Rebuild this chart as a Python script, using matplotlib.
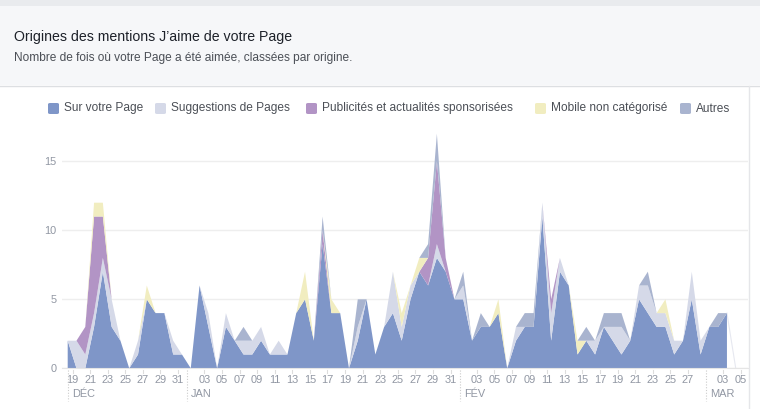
import numpy as np
import matplotlib
matplotlib.use("Agg")
import matplotlib.pyplot as plt
from matplotlib.transforms import blended_transform_factory
from matplotlib.patches import FancyBboxPatch, Rectangle
from matplotlib.lines import Line2D

plt.rcParams['font.family'] = ['Liberation Sans', 'DejaVu Sans']

# daily likes, 19 Dec -> 04 Mar
sur_page = [2, 0, 0, 3, 7, 3, 2, 0, 1, 5, 4, 4, 1, 1, 0, 6, 3, 0, 3, 2,
            1, 1, 2, 1, 1, 1, 4, 5, 2, 9, 4, 4, 0, 2, 5, 1, 3, 4, 2, 5,
            7, 6, 8, 7, 5, 5, 2, 3, 3, 4, 0, 2, 3, 3, 11, 2, 7, 6, 1, 2,
            1, 3, 2, 1, 2, 5, 4, 3, 3, 1, 2, 5, 1, 3, 3, 4]
suggestions = [0, 2, 1, 1, 1, 2, 0, 0, 1, 0, 0, 0, 1, 0, 0, 0, 1, 0, 1, 0,
               1, 1, 1, 0, 1, 0, 0, 0, 0, 0, 0, 0, 0, 1, 0, 0, 0, 3, 1, 1,
               0, 0, 1, 0, 0, 1, 0, 0, 0, 0, 0, 1, 0, 0, 1, 2, 1, 0, 0, 0,
               1, 0, 1, 2, 0, 1, 2, 1, 1, 1, 0, 2, 1, 0, 0, 0]
publicites = [0, 0, 2, 7, 3, 0, 0, 0, 0, 0, 0, 0, 0, 0, 0, 0, 0, 0, 0, 0,
              0, 0, 0, 0, 0, 0, 0, 0, 0, 1, 0, 0, 0, 0, 0, 0, 0, 0, 0, 0,
              0, 2, 6, 1, 0, 0, 0, 0, 0, 0, 0, 0, 0, 0, 0, 1, 0, 0, 0, 0,
              0, 0, 0, 0, 0, 0, 0, 0, 0, 0, 0, 0, 0, 0, 0, 0]
mobile = [0, 0, 0, 1, 1, 0, 0, 0, 0, 1, 0, 0, 0, 0, 0, 0, 0, 0, 0, 0,
          0, 0, 0, 0, 0, 0, 0, 2, 0, 0, 1, 0, 0, 0, 0, 0, 0, 0, 1, 0,
          1, 0, 0, 0, 0, 0, 0, 0, 0, 1, 0, 0, 0, 0, 0, 0, 0, 0, 1, 0,
          0, 0, 0, 0, 0, 0, 0, 0, 1, 0, 0, 0, 0, 0, 0, 0]
autres = [0, 0, 0, 0, 0, 0, 0, 0, 0, 0, 0, 0, 0, 0, 0, 0, 0, 0, 0, 0,
          1, 0, 0, 0, 0, 0, 0, 0, 0, 1, 0, 0, 0, 2, 0, 0, 0, 0, 0, 0,
          0, 1, 2, 0, 0, 1, 0, 1, 0, 0, 0, 0, 1, 1, 0, 0, 0, 0, 0, 1,
          0, 1, 1, 1, 0, 0, 1, 0, 0, 0, 0, 0, 0, 0, 1, 0]

series_names = ["Sur votre Page", "Suggestions de Pages",
                "Publicités et actualités sponsorisées",
                "Mobile non catégorisé", "Autres"]
colors = ["#7f96c8", "#d5d9e8", "#b294c5", "#f1edc0", "#a9b4cf"]

# tick labels: odd days, month start replaced by month name
day_labels = (["19", "21", "23", "25", "27", "29", "31"]
              + ["%02d" % d for d in range(3, 32, 2)]
              + ["%02d" % d for d in range(3, 28, 2)]
              + ["03", "05"])
day_index = ([0, 2, 4, 6, 8, 10, 12]
             + [13 + d - 1 for d in range(3, 32, 2)]
             + [44 + d - 1 for d in range(3, 28, 2)]
             + [74, 76])
months = ["DÉC", "JAN", "FÉV", "MAR"]
month_index = [-0.6, 13, 44, 72]

W, H = 760, 409
fig = plt.figure(figsize=(W / 100, H / 100), dpi=100)
fig.patch.set_facecolor("white")

# header band
fig.add_artist(Rectangle((0, 1 - 85 / H), 1, 85 / H, transform=fig.transFigure,
                         facecolor="#f6f7f9", edgecolor="none", zorder=0))
fig.add_artist(Rectangle((0, 1 - 6 / H), 1, 6 / H, transform=fig.transFigure,
                         facecolor="#e9ebee", edgecolor="none", zorder=0))
fig.add_artist(Line2D([0, 1], [1 - 85.5 / H] * 2, transform=fig.transFigure,
                      color="#dddfe2", lw=1))
fig.add_artist(Line2D([748.5 / W] * 2, [0, 1 - 86 / H], transform=fig.transFigure,
                      color="#e5e6e9", lw=1))

fig.text(14 / W, 1 - 41 / H, "Origines des mentions J’aime de votre Page",
         fontsize=10.2, color="#1d2129", va="baseline")
fig.text(14 / W, 1 - 61 / H,
         "Nombre de fois où votre Page a été aimée, classées par origine.",
         fontsize=8.6, color="#4b4f56", va="baseline")

# legend
leg_x = [48, 155, 306, 535, 680]
for xs, name, c in zip(leg_x, series_names, colors):
    fig.add_artist(FancyBboxPatch((xs / W, 1 - 114 / H), 11 / W, 11 / H,
                                  boxstyle="round,pad=0,rounding_size=0.003",
                                  transform=fig.transFigure, facecolor=c,
                                  edgecolor="none"))
    fig.text((xs + 16) / W, 1 - 108.5 / H, name, fontsize=8.6,
             color="#4b4f56", va="center")

# plot area
x0, dx = 67.7, 8.79
left_px, right_px, bottom_px, top_px = 62, 748, 368.3, 130
ax = fig.add_axes([left_px / W, 1 - bottom_px / H,
                   (right_px - left_px) / W, (bottom_px - top_px) / H])
ax.set_xlim((left_px - x0) / dx, (right_px - x0) / dx)
ax.set_ylim(0, (bottom_px - top_px) / 13.8)

x = np.arange(len(sur_page))
ax.stackplot(x, sur_page, suggestions, publicites, mobile, autres,
             colors=colors, linewidth=0, zorder=2)
# unfinished last day, drawn faintly
last_total = sur_page[-1] + suggestions[-1] + publicites[-1] + mobile[-1] + autres[-1]
ax.plot([x[-1], x[-1] + 1], [last_total, 0], color="#e6e8f0", lw=0.8, zorder=1)

ax.set_yticks([0, 5, 10, 15])
ax.set_yticklabels(["0", "5", "10", "15"])
ax.tick_params(axis="y", length=0, pad=4, labelsize=7.9, labelcolor="#9197a3")
ax.grid(axis="y", color="#eeeeee", lw=1, zorder=0)
ax.set_xticks([])
for s in ["left", "right", "top"]:
    ax.spines[s].set_visible(False)
ax.spines["bottom"].set_color("#e5e5e5")
ax.set_facecolor("white")

tr = blended_transform_factory(ax.transData, fig.transFigure)
for d, lab in zip(day_index, day_labels):
    ax.text(d + 0.55, 1 - 380 / H, lab, transform=tr, ha="center", va="center",
            fontsize=7.9, color="#9197a3", clip_on=False)
    fig.add_artist(Line2D([d + 0.55] * 2, [1 - 369.5 / H, 1 - 372.5 / H],
                          transform=tr, color="#dddddd", lw=0.8))
for m, mi in zip(months, month_index):
    xm = mi + 0.6
    fig.add_artist(Line2D([xm, xm], [1 - 370 / H, 1 - 401 / H], transform=tr,
                          color="#cccccc", lw=0.8, ls=(0, (1, 1.5))))
    ax.text(xm + 0.45, 1 - 394 / H, m, transform=tr, ha="left", va="center",
            fontsize=7.9, color="#9197a3", clip_on=False)

fig.savefig("out.png", dpi=100)
